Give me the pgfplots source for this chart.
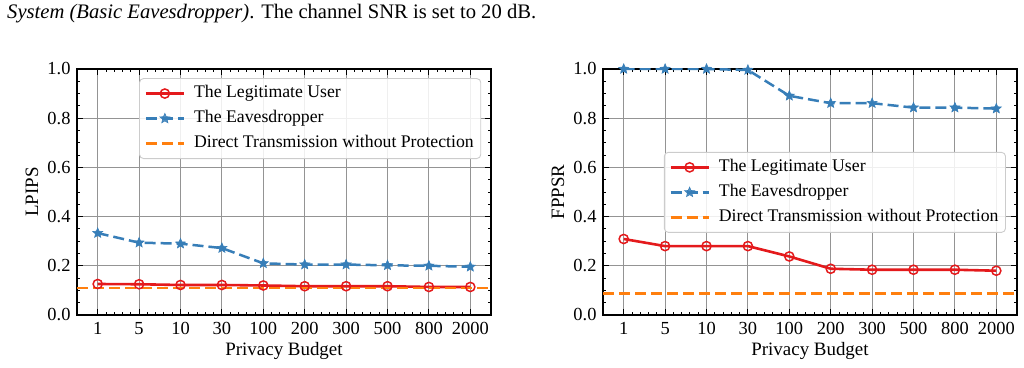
\documentclass[border=0pt]{standalone}
\usepackage{fontspec}
\setmainfont{Liberation Serif}
\usepackage{pgfplots}
\pgfplotsset{compat=1.18}

\definecolor{legred}{RGB}{228,26,28}
\definecolor{eveblue}{RGB}{55,126,184}
\definecolor{dtorange}{RGB}{255,127,14}

% filled five-pointed star marker
\pgfdeclareplotmark{fstar}{%
  \pgfpathmoveto{\pgfpointpolar{90}{\pgfplotmarksize}}%
  \pgfpathlineto{\pgfpointpolar{126}{0.45\pgfplotmarksize}}%
  \pgfpathlineto{\pgfpointpolar{162}{\pgfplotmarksize}}%
  \pgfpathlineto{\pgfpointpolar{198}{0.45\pgfplotmarksize}}%
  \pgfpathlineto{\pgfpointpolar{234}{\pgfplotmarksize}}%
  \pgfpathlineto{\pgfpointpolar{270}{0.45\pgfplotmarksize}}%
  \pgfpathlineto{\pgfpointpolar{306}{\pgfplotmarksize}}%
  \pgfpathlineto{\pgfpointpolar{342}{0.45\pgfplotmarksize}}%
  \pgfpathlineto{\pgfpointpolar{18}{\pgfplotmarksize}}%
  \pgfpathlineto{\pgfpointpolar{54}{0.45\pgfplotmarksize}}%
  \pgfpathclose
  \pgfusepathqfillstroke}

\pgfplotsset{
  budgetaxis/.style={
    scale only axis, width=414bp, height=246bp,
    xmin=-0.5, xmax=9.5, ymin=0, ymax=1,
    xtick={0,...,9},
    xticklabels={1,5,10,30,100,200,300,500,800,2000},
    ytick={0,0.2,0.4,0.6,0.8,1.0},
    yticklabel style={/pgf/number format/fixed,/pgf/number format/fixed zerofill,/pgf/number format/precision=1},
    /pgf/number format/assume math mode=true,
    tick label style={font=\fontsize{18.5}{22}\selectfont},
    minor x tick num=4, minor y tick num=3,
    tick align=inside,
    major tick length=6bp, minor tick length=3bp,
    every tick/.style={black, line width=0.9bp},
    axis line style={line width=1.1bp},
    grid=major,
    major grid style={black!42, line width=1bp},
    xlabel={Privacy Budget},
    xlabel style={at={(axis description cs:0.5,0)}, anchor=center, yshift=-36bp},
    ylabel style={at={(axis description cs:-0.109,0.5)}, anchor=center},
    xticklabel style={yshift=-1bp},
    legend cell align=left,
    legend style={draw=black!20, rounded corners=4bp, fill=white, fill opacity=0.85,
      text opacity=1, line width=0.9bp, inner xsep=5bp, inner ysep=5bp,
      row sep=5bp, column sep=7bp, font=\fontsize{17.8}{21}\selectfont,
      nodes={inner sep=2bp, text height=12bp, text depth=4bp}},
    legend image code/.code={%
      \draw[mark repeat=2,mark phase=2,#1] plot coordinates {(0bp,0bp) (19bp,0bp) (38bp,0bp)};},
  },
  leguser/.style={legred, line width=2.6bp, mark=o, mark size=4.6bp,
    mark options={solid, line width=1.5bp, fill=none}},
  eve/.style={eveblue, line width=2.5bp, dash pattern=on 11bp off 5bp, mark=fstar,
    mark size=5.2bp, mark options={solid, line width=0.6bp, fill=eveblue}},
  direct/.style={dtorange, line width=2.6bp, dash pattern=on 11bp off 5bp},
}

\begin{document}
\fontsize{19}{22.8}\selectfont
\begin{tikzpicture}
\path[use as bounding box] (0,0) rectangle (1024bp,368bp);

\node[anchor=base west, inner sep=0pt] at (7bp,349bp)
  {\fontsize{20.7}{24}\selectfont\textit{System (Basic Eavesdropper)}. The channel SNR is set to 20 dB.};

% LPIPS
\begin{axis}[budgetaxis, at={(77bp,53bp)}, anchor=south west,
  ylabel={LPIPS},
  legend style={at={(rel axis cs:0.15,0.963)}, anchor=north west}]
\addplot[leguser] coordinates {(0,0.126) (1,0.125) (2,0.122) (3,0.122) (4,0.120) (5,0.117) (6,0.117) (7,0.117) (8,0.114) (9,0.114)};
\addlegendentry{The Legitimate User}
\addplot[eve] coordinates {(0,0.333) (1,0.294) (2,0.290) (3,0.272) (4,0.210) (5,0.205) (6,0.205) (7,0.202) (8,0.200) (9,0.196)};
\addlegendentry{The Eavesdropper}
\addplot[direct] coordinates {(-0.5,0.110) (9.5,0.110)};
\addlegendentry{Direct Transmission without Protection}
\end{axis}

% FPPSR
\begin{axis}[budgetaxis, at={(603bp,53bp)}, anchor=south west,
  ylabel={FPPSR},
  legend style={at={(rel axis cs:0.147,0.663)}, anchor=north west}]
\addplot[leguser] coordinates {(0,0.309) (1,0.280) (2,0.280) (3,0.280) (4,0.238) (5,0.188) (6,0.184) (7,0.184) (8,0.184) (9,0.180)};
\addlegendentry{The Legitimate User}
\addplot[eve] coordinates {(0,1.0) (1,1.0) (2,1.0) (3,0.996) (4,0.891) (5,0.861) (6,0.861) (7,0.843) (8,0.843) (9,0.839)};
\addlegendentry{The Eavesdropper}
\addplot[direct] coordinates {(-0.5,0.087) (9.5,0.087)};
\addlegendentry{Direct Transmission without Protection}
\end{axis}
\end{tikzpicture}
\end{document}
